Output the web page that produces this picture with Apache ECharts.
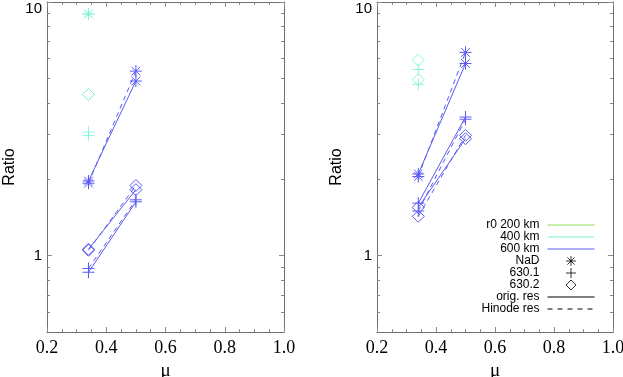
<!DOCTYPE html>
<html>
<head>
<meta charset="utf-8">
<script src="https://cdn.jsdelivr.net/npm/echarts@6/dist/echarts.min.js"></script>
<style>
  * { margin: 0; padding: 0; }
  body { background: #fff; }
  #chart { width: 623px; height: 377px; }
</style>
</head>
<body>
<div id="chart"></div>
<script>
// mu positions of the two observations
const mu = [0.34, 0.5];

// tick values
const xTicks = [0.2, 0.4, 0.6, 0.8, 1.0];
const yMajor = [1, 10];
const yMinor = [0.6, 0.7, 0.8, 0.9, 2, 3, 4, 5, 6, 7, 8, 9];

// left panel, r0 = 600 km (orig / Hinode)
const nadOrigL = [1.97, 4.88];
const nadHinL = [1.93, 5.34];
const fe1OrigL = [0.86, 1.63];
const fe1HinL = [0.89, 1.66];
const fe2OrigL = [1.06, 1.82];
const fe2HinL = [1.05, 1.89];
// left panel, r0 = 400 km (mu = 0.34 only)
const nad400L = [8.97, 8.97];
const fe1400L = [3.07, 2.98];
const fe2400L = [4.32, 4.32];

// right panel, r0 = 600 km
const nadOrigR = [2.10, 5.72];
const nadHinR = [2.05, 6.33];
const fe1OrigR = [1.61, 3.52];
const fe1HinR = [1.50, 3.45];
const fe2OrigR = [1.55, 2.89];
const fe2HinR = [1.43, 2.98];
// right panel, r0 = 400 km
const fe1400R = [5.42, 4.74];
const fe2400R = [5.90, 4.95];

const legendNames = ['r0 200 km', '400 km', '600 km', 'NaD', '630.1', '630.2', 'orig. res', 'Hinode res'];
const legendIsLine = [true, true, true, false, false, false, true, true];

const blue = '#5a5af4';
const cyan = '#78f2d6';
const green = '#8ee05c';
const axisGrey = '#6f6f6f';

const STAR = 'path://M0,-1L0,1M-1,0L1,0M-0.72,-0.72L0.72,0.72M-0.72,0.72L0.72,-0.72';
const PLUS = 'path://M0,-1L0,1M-1,0L1,0';
const DIAMOND = 'path://M0,-1L1,0L0,1L-1,0Z';

function lineSeries(name, panel, vals, marker, color, dashed) {
  return {
    name: name,
    type: 'line',
    xAxisIndex: panel * 2,
    yAxisIndex: panel * 4,
    data: vals.map(function (v, i) { return [mu[i], v]; }),
    symbol: marker,
    symbolSize: 12,
    showAllSymbol: true,
    lineStyle: { color: color, width: 1, type: dashed ? [5, 4] : 'solid' },
    itemStyle: { color: 'transparent', borderColor: color, borderWidth: 1 },
    emphasis: { disabled: true }
  };
}

// single points at mu = 0.34 (400 km)
function pointSeries(name, panel, vals, marker) {
  return {
    name: name,
    type: 'scatter',
    xAxisIndex: panel * 2,
    yAxisIndex: panel * 4,
    data: vals.map(function (v) { return [mu[0], v]; }),
    symbol: marker,
    symbolSize: 12,
    itemStyle: { color: 'transparent', borderColor: cyan, borderWidth: 1 },
    emphasis: { disabled: true }
  };
}

function legendLine(name, color, dashed) {
  return {
    name: name, type: 'line', xAxisIndex: 2, yAxisIndex: 4, data: [],
    symbol: 'none', lineStyle: { color: color, width: 1, type: dashed ? [5, 5] : 'solid' },
    itemStyle: { color: color }
  };
}

function legendMark(name, marker) {
  return {
    name: name, type: 'scatter', xAxisIndex: 2, yAxisIndex: 4, data: [],
    symbol: marker,
    itemStyle: { color: 'transparent', borderColor: '#000', borderWidth: 1 }
  };
}

function xAxes(grid, bottom) {
  return {
    type: 'value', gridIndex: grid, position: bottom ? 'bottom' : 'top',
    min: 0.2, max: 1.0, interval: 0.2,
    name: bottom ? 'μ' : '', nameLocation: 'middle', nameGap: 29,
    nameTextStyle: { fontFamily: 'Liberation Serif', fontSize: 19, color: '#000' },
    axisLine: { show: true, lineStyle: { color: axisGrey, width: 1 } },
    axisTick: { show: true, inside: true, length: 5, lineStyle: { color: '#8a8a8a' } },
    minorTick: { show: true, splitNumber: 4, length: 3, lineStyle: { color: '#8a8a8a' } },
    splitLine: { show: false },
    minorSplitLine: { show: false },
    axisLabel: {
      show: bottom, margin: 7, fontFamily: 'Liberation Serif', fontSize: 18, color: '#000',
      formatter: function (v) { return v.toFixed(1); }
    }
  };
}

function yAxes(grid, side, major, nameGap) {
  const labelled = side === 'left' && major;
  return {
    type: 'log', logBase: 10, gridIndex: grid, position: side,
    min: 0.5, max: 10,
    name: labelled ? 'Ratio' : '', nameLocation: 'middle', nameGap: nameGap,
    nameTextStyle: { fontFamily: 'Liberation Sans', fontSize: 16, color: '#000' },
    axisLine: { show: major, lineStyle: { color: axisGrey, width: 1 } },
    axisTick: {
      show: true, inside: true, length: major ? 5 : 3,
      customValues: major ? yMajor : yMinor,
      lineStyle: { color: '#8a8a8a' }
    },
    splitLine: { show: false },
    axisLabel: {
      show: labelled, margin: 5, fontFamily: 'Liberation Sans', fontSize: 15, color: '#000',
      customValues: yMajor,
      formatter: function (v) {
        if (Math.abs(v - 10) < 1e-6) return '{top|10}';
        if (Math.abs(v - 1) < 1e-6) return '1';
        return '';
      },
      rich: { top: { fontFamily: 'Liberation Sans', fontSize: 15, color: '#000', padding: [13, 0, 0, 0] } }
    }
  };
}

const series = [
  // left panel
  lineSeries('nadOrigL', 0, nadOrigL, STAR, blue, false),
  lineSeries('nadHinL', 0, nadHinL, STAR, blue, true),
  lineSeries('fe1OrigL', 0, fe1OrigL, PLUS, blue, false),
  lineSeries('fe1HinL', 0, fe1HinL, PLUS, blue, true),
  lineSeries('fe2OrigL', 0, fe2OrigL, DIAMOND, blue, false),
  lineSeries('fe2HinL', 0, fe2HinL, DIAMOND, blue, true),
  pointSeries('nad400L', 0, nad400L, STAR),
  pointSeries('fe1400L', 0, fe1400L, PLUS),
  pointSeries('fe2400L', 0, fe2400L, DIAMOND),
  // right panel
  lineSeries('nadOrigR', 1, nadOrigR, STAR, blue, false),
  lineSeries('nadHinR', 1, nadHinR, STAR, blue, true),
  lineSeries('fe1OrigR', 1, fe1OrigR, PLUS, blue, false),
  lineSeries('fe1HinR', 1, fe1HinR, PLUS, blue, true),
  lineSeries('fe2OrigR', 1, fe2OrigR, DIAMOND, blue, false),
  lineSeries('fe2HinR', 1, fe2HinR, DIAMOND, blue, true),
  pointSeries('fe1400R', 1, fe1400R, PLUS),
  pointSeries('fe2400R', 1, fe2400R, DIAMOND),
  // legend only
  legendLine(legendNames[0], green, false),
  legendLine(legendNames[1], cyan, false),
  legendLine(legendNames[2], blue, false),
  legendMark(legendNames[3], STAR),
  legendMark(legendNames[4], PLUS),
  legendMark(legendNames[5], DIAMOND),
  legendLine(legendNames[6], '#000', false),
  legendLine(legendNames[7], '#000', true)
];

const chart = echarts.init(document.getElementById('chart'), null, { renderer: 'canvas' });
chart.setOption({
  animation: false,
  backgroundColor: '#fff',
  grid: [
    { left: 47, right: 339, top: 2, bottom: 45, outerBoundsMode: 'none' },
    { left: 377, right: 10, top: 2, bottom: 45, outerBoundsMode: 'none' }
  ],
  xAxis: [xAxes(0, true), xAxes(0, false), xAxes(1, true), xAxes(1, false)],
  yAxis: [
    yAxes(0, 'left', true, 29), yAxes(0, 'left', false, 29),
    yAxes(0, 'right', true, 29), yAxes(0, 'right', false, 29),
    yAxes(1, 'left', true, 32), yAxes(1, 'left', false, 32),
    yAxes(1, 'right', true, 32), yAxes(1, 'right', false, 32)
  ],
  legend: {
    data: legendNames.map(function (n, i) {
      return legendIsLine[i] ? { name: n, itemStyle: { opacity: 0 } } : { name: n };
    }),
    orient: 'vertical',
    align: 'right',
    right: 28,
    top: 219,
    padding: 0,
    itemWidth: 47,
    itemHeight: 10,
    itemGap: 0,
    selectedMode: false,
    itemStyle: { borderWidth: 1 },
    lineStyle: { width: 1 },
    textStyle: { fontFamily: 'Liberation Sans', fontSize: 12, color: '#000', lineHeight: 10, padding: [0, 3, 0, 0] }
  },
  series: series
});
</script>
</body>
</html>
